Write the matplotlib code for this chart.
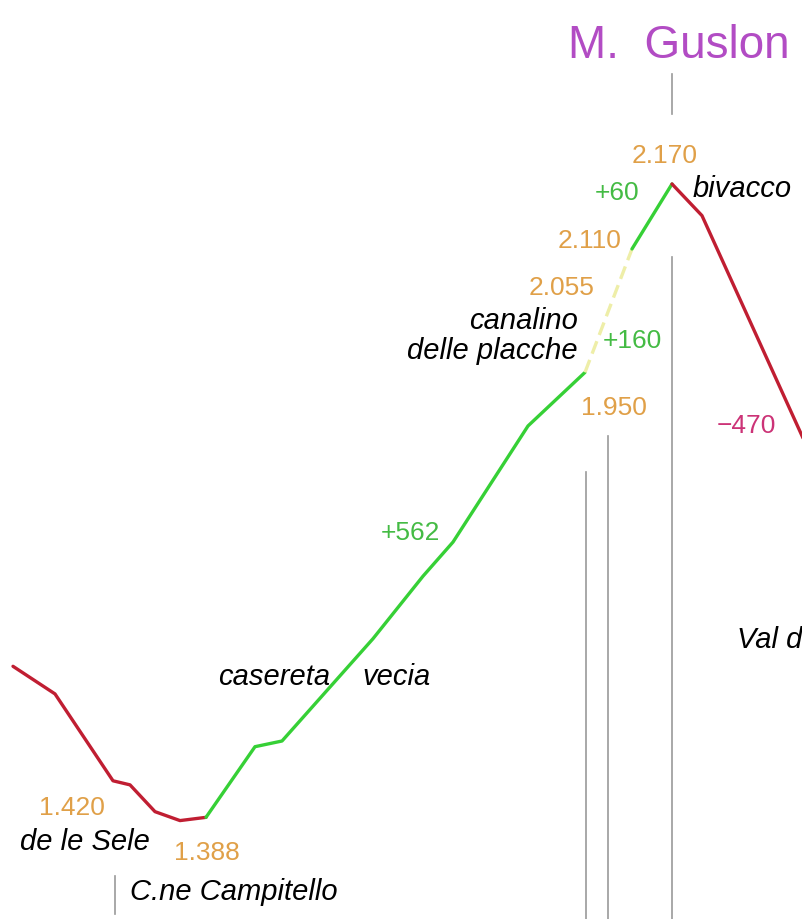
import matplotlib
matplotlib.use("Agg")
import matplotlib.pyplot as plt

# profile: distance (km, arbitrary origin) and elevation (m)
down1_dist = [0.13, 0.55, 1.13, 1.30, 1.55, 1.80, 2.06]
down1_elev = [1576, 1542, 1435, 1430, 1397, 1386, 1390]

up1_dist = [2.06, 2.55, 2.82, 3.73, 4.23, 4.53, 5.28, 5.85]
up1_elev = [1390, 1477, 1484, 1610, 1687, 1729, 1872, 1938]

gully_dist = [5.85, 6.32]
gully_elev = [1938, 2090]

up2_dist = [6.32, 6.72]
up2_elev = [2090, 2170]

down2_dist = [6.72, 7.02, 8.06]
down2_elev = [2170, 2131, 1849]

# reference verticals: (distance, top elevation, bottom elevation)
markers = [(6.72, 2305, 2256), (6.72, 2080, 1265), (6.08, 1860, 1265),
           (5.86, 1815, 1265), (1.15, 1318, 1271)]

W, H = 803, 920
FONT = ["Liberation Sans", "DejaVu Sans"]
ORANGE = "#e0a048"
GREEN = "#44bb44"
RED = "#c01e32"
LINE_GREEN = "#36d036"

fig = plt.figure(figsize=(W / 100, H / 100), dpi=100)
ax = fig.add_axes([0, 0, 1, 1])
ax.set_xlim(0, 8.03)
ax.set_ylim(1264.8, 2397.8)
ax.axis("off")

for d, top, bot in markers:
    ax.plot([d, d], [bot, top], color="#999999", linewidth=1.2)

ax.plot(down1_dist, down1_elev, color=RED, linewidth=2.4, solid_capstyle="round")
ax.plot(up1_dist, up1_elev, color=LINE_GREEN, linewidth=2.4, solid_capstyle="round")
ax.plot(gully_dist, gully_elev, color="#eeeea8", linewidth=2.4, linestyle=(0, (4, 2)))
ax.plot(up2_dist, up2_elev, color=LINE_GREEN, linewidth=2.4, solid_capstyle="round")
ax.plot(down2_dist, down2_elev, color=RED, linewidth=2.4, solid_capstyle="round")


def label(x, y, s, color="black", size=19, style="normal", ha="center"):
    # x, y given in picture pixels, y = baseline
    fig.text(x / W, 1 - y / H, s, color=color, fontsize=size, style=style,
             ha=ha, va="baseline", family=FONT)


# summit name
label(679, 58, "M.  Guslon", color="#b24cc4", size=33)

# elevations
label(665, 163, "2.170", ORANGE)
label(590, 248, "2.110", ORANGE)
label(562, 295, "2.055", ORANGE)
label(614, 415, "1.950", ORANGE)
label(72, 815, "1.420", ORANGE)
label(207, 860, "1.388", ORANGE)

# climbs / descents
label(617, 200, "+60", GREEN)
label(632, 348, "+160", GREEN)
label(410, 540, "+562", GREEN)
label(746, 433, "\u2212470", "#cc3377")

# place names
label(693, 197, "bivacco", size=21, style="italic", ha="left")
label(578, 329, "canalino", size=21, style="italic", ha="right")
label(578, 359, "delle placche", size=21, style="italic", ha="right")
label(218, 685, "casereta", size=21, style="italic", ha="left")
label(362, 685, "vecia", size=21, style="italic", ha="left")
label(737, 648, "Val d'Angheraz", size=21, style="italic", ha="left")
label(150, 850, "de le Sele", size=21, style="italic", ha="right")
label(130, 900, "C.ne Campitello", size=21, style="italic", ha="left")

fig.savefig("out.png", dpi=100)
